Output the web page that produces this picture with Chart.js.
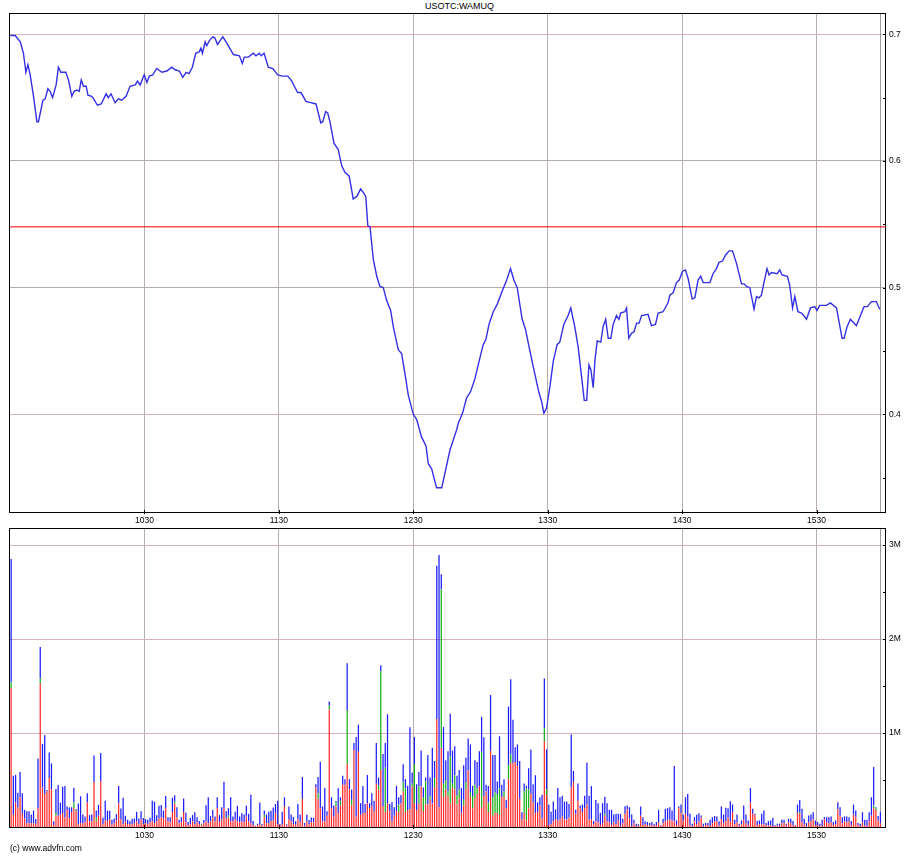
<!DOCTYPE html>
<html>
<head>
<meta charset="UTF-8">
<title>USOTC:WAMUQ</title>
<script src="https://cdn.jsdelivr.net/npm/chart.js"></script>
<style>
body {
  margin: 0;
  background: #fff;
  width: 919px;
  height: 857px;
  position: relative;
  overflow: hidden;
  font-family: "Liberation Sans", Arial, sans-serif;
}
#title {
  position: absolute;
  top: 2px;
  left: 0;
  width: 919px;
  text-align: center;
  font-size: 9px;
  line-height: 9px;
}
#copy {
  position: absolute;
  left: 10px;
  top: 844px;
  font-size: 8.5px;
  line-height: 9px;
}
canvas { position: absolute; left: 0; }
#price { top: 0; }
#vol { top: 520px; }
</style>
</head>
<body>

<div id="title">USOTC:WAMUQ</div>
<canvas id="price" width="919" height="530"></canvas>
<canvas id="vol" width="919" height="337"></canvas>
<div id="copy">(c) www.advfn.com</div>

<script>
// minutes after 09:30
const tickMinutes = [60, 120, 180, 240, 300, 360];
const timeLabels = ["1030", "1130", "1230", "1330", "1430", "1530"];

const priceTicks = [0.4, 0.5, 0.6, 0.7];
const priceMinor = [0.35, 0.45, 0.55, 0.65];
const volTicks = [1000, 2000, 3000];   // thousands
const volMinor = [500, 1500, 2500];
const prevClose = 0.548;

// price trace
const priceTime = [
  0.1,2.3,4.6,6.0,7.1,8.0,9.0,10.5,12.0,12.7,
  14.7,15.7,16.9,17.9,19.0,20.6,21.6,22.7,24.9,26.1,
  27.6,28.6,29.8,30.9,31.8,32.8,34.0,34.8,36.5,37.7,
  39.0,40.7,42.9,43.9,45.1,46.9,48.4,49.9,51.8,53.6,
  55.9,56.9,58.1,59.9,61.1,62.2,63.7,65.5,67.8,70.0,
  72.2,73.7,75.6,77.1,78.6,79.9,81.4,82.9,84.4,85.2,
  85.9,87.1,87.8,89.0,90.5,91.5,92.6,93.8,95.0,96.8,
  99.7,102.4,103.7,104.6,106.4,108.6,109.8,111.3,112.1,113.4,
  115.3,117.3,119.5,121.7,122.8,124.0,125.8,126.9,128.4,129.9,
  132.1,134.2,136.6,138.7,139.6,140.9,141.8,142.8,144.6,146.5,
  148.1,149.5,151.4,153.2,154.8,156.5,157.7,158.8,159.7,160.7,
  162.2,163.7,165.1,166.6,168.1,169.9,171.1,173.3,174.8,176.3,
  177.8,180.0,181.5,183.7,185.7,186.7,188.2,190.4,192.7,196.4,
  199.4,200.1,202.0,203.8,205.6,207.5,209.4,211.2,212.4,213.8,
  215.7,217.5,219.4,221.7,223.4,224.9,226.4,228.6,230.1,231.7,
  233.5,236.1,237.3,238.3,239.5,241.0,242.5,244.2,245.4,247.2,
  249.1,250.3,252.1,253.6,255.1,256.3,257.4,258.4,259.3,260.3,
  261.1,262.1,263.7,264.7,265.9,267.0,268.2,269.2,270.7,271.8,
  272.6,274.4,275.2,276.2,277.4,278.5,279.7,280.8,281.9,284.8,
  286.3,288.1,289.3,291.5,293.7,294.5,296.0,297.5,298.7,300.2,
  301.5,302.7,304.5,305.7,307.1,308.3,309.4,312.4,313.8,315.3,
  316.5,318.0,319.5,321.0,322.5,324.3,326.5,327.7,328.7,330.2,
  332.1,333.2,334.3,335.4,336.4,337.9,338.8,339.9,342.4,343.6,
  344.6,347.0,348.0,349.3,350.3,351.7,353.3,354.3,355.5,357.3,
  359.2,360.2,361.4,364.4,366.2,368.9,371.4,372.3,373.6,375.1,
  377.8,379.6,381.2,382.7,384.5,386.7,388.2
];
const priceValue = [
  0.699,0.699,0.694,0.685,0.670,0.676,0.668,0.651,0.631,0.631,
  0.648,0.649,0.657,0.655,0.650,0.660,0.674,0.670,0.670,0.664,
  0.651,0.655,0.656,0.655,0.664,0.659,0.659,0.652,0.651,0.648,
  0.644,0.645,0.653,0.650,0.653,0.646,0.649,0.648,0.651,0.659,
  0.660,0.663,0.660,0.668,0.662,0.667,0.668,0.673,0.670,0.671,
  0.674,0.672,0.671,0.666,0.670,0.669,0.674,0.685,0.686,0.689,
  0.685,0.694,0.691,0.695,0.698,0.697,0.692,0.695,0.698,0.693,
  0.684,0.683,0.677,0.682,0.682,0.685,0.683,0.685,0.683,0.685,
  0.674,0.673,0.668,0.667,0.667,0.667,0.663,0.659,0.654,0.654,
  0.647,0.646,0.645,0.630,0.631,0.639,0.638,0.631,0.614,0.609,
  0.596,0.591,0.588,0.570,0.572,0.578,0.575,0.572,0.549,0.548,
  0.522,0.509,0.501,0.500,0.490,0.482,0.469,0.451,0.448,0.432,
  0.415,0.400,0.396,0.382,0.375,0.361,0.357,0.342,0.342,0.372,
  0.388,0.393,0.401,0.413,0.418,0.428,0.442,0.455,0.459,0.471,
  0.481,0.487,0.496,0.506,0.515,0.506,0.500,0.475,0.467,0.453,
  0.438,0.417,0.410,0.401,0.405,0.422,0.442,0.455,0.457,0.471,
  0.478,0.484,0.469,0.453,0.430,0.411,0.411,0.439,0.435,0.421,
  0.443,0.458,0.457,0.469,0.475,0.460,0.460,0.471,0.478,0.475,
  0.480,0.481,0.484,0.460,0.464,0.465,0.472,0.472,0.478,0.479,
  0.470,0.471,0.480,0.481,0.488,0.494,0.496,0.504,0.506,0.513,
  0.514,0.507,0.491,0.492,0.506,0.509,0.504,0.504,0.511,0.515,
  0.520,0.521,0.526,0.529,0.529,0.519,0.503,0.503,0.501,0.500,
  0.483,0.493,0.492,0.494,0.503,0.515,0.510,0.512,0.511,0.514,
  0.510,0.509,0.502,0.484,0.493,0.481,0.480,0.478,0.475,0.484,
  0.485,0.482,0.486,0.486,0.488,0.484,0.460,0.460,0.469,0.475,
  0.470,0.478,0.485,0.485,0.489,0.489,0.483
];

// volume per minute, thousands of shares
const volTotal = [
  2850,546,554,365,586,358,183,168,168,133,
  175,84,730,1916,885,976,393,793,677,60,
  404,446,260,428,435,218,207,210,418,190,
  250,326,133,112,358,126,133,762,175,235,
  786,98,280,175,172,77,91,137,435,196,
  312,119,77,60,88,91,161,91,168,95,
  84,77,98,280,270,126,225,235,175,330,
  105,105,312,337,210,77,105,302,154,52,
  98,126,158,105,63,35,74,232,316,116,
  182,112,316,126,210,481,168,200,316,112,
  161,225,112,147,133,225,140,344,63,14,
  35,260,32,175,133,161,172,207,245,280,
  32,161,316,28,218,133,105,60,245,133,
  533,42,130,74,102,98,456,533,695,218,
  414,168,1334,316,228,277,411,316,544,509,
  1741,509,400,895,958,1088,253,435,245,554,
  253,358,280,895,526,1720,776,895,1200,245,
  266,210,438,316,340,667,509,438,1060,579,
  958,456,586,814,421,526,765,526,842,702,
  2780,2893,2689,1063,709,807,1204,814,860,544,
  607,414,656,737,941,878,439,709,691,807,
  1172,955,449,435,1404,765,765,484,965,449,
  509,288,1281,1572,1141,849,878,702,158,463,
  439,625,825,456,551,263,316,344,1580,825,
  239,161,270,186,414,316,333,270,270,246,
  983,597,183,463,228,239,333,684,333,435,
  63,288,253,151,253,323,253,183,183,133,
  140,140,140,88,221,228,211,133,77,35,
  28,218,105,60,53,42,53,28,53,183,
  18,88,193,200,211,176,649,70,218,239,
  133,316,351,140,35,105,130,147,123,35,
  42,42,77,105,116,112,60,218,133,204,
  200,274,239,77,133,35,70,228,133,70,
  414,193,140,63,70,140,176,42,63,70,
  98,18,35,35,77,77,35,88,88,63,
  18,239,288,193,88,42,123,133,158,70,
  53,35,77,105,105,105,112,53,70,263,
  211,105,112,112,105,63,239,176,42,35,
  158,77,77,158,316,639,211,116,158
];
const volRed = [
  1480,130,260,210,320,140,90,40,40,40,
  40,35,200,1530,420,350,380,520,400,20,
  120,120,130,150,100,180,90,160,200,170,
  30,40,40,50,260,60,60,480,60,120,
  490,30,70,60,80,25,40,70,250,80,
  30,60,30,30,30,40,60,30,80,30,
  40,30,50,60,40,60,90,100,90,200,
  60,50,160,250,100,40,50,160,50,20,
  30,60,30,50,30,20,40,60,40,60,
  100,60,200,50,80,200,90,100,60,60,
  80,60,50,60,50,110,60,40,20,10,
  20,30,15,100,40,40,60,70,150,30,
  15,30,220,15,80,60,30,25,80,50,
  300,15,60,30,50,50,420,300,200,60,
  60,120,1250,200,110,220,150,230,450,450,
  670,400,230,820,110,800,130,150,150,250,
  200,220,170,460,400,610,220,160,250,170,
  60,120,170,160,250,380,160,180,190,430,
  250,180,250,430,170,240,240,290,250,420,
  1150,210,840,320,400,330,250,420,400,240,
  300,150,230,400,600,320,200,300,350,430,
  210,330,380,160,810,120,150,150,130,320,
  320,200,510,680,680,690,650,300,80,150,
  70,200,350,260,150,160,230,90,910,340,
  20,30,60,80,70,80,110,80,80,100,
  420,480,140,280,200,160,200,240,80,80,
  30,60,50,20,40,120,60,50,20,50,
  30,70,10,40,140,190,90,10,40,10,
  10,120,20,30,20,15,20,10,20,50,
  10,40,60,70,80,70,60,20,200,150,
  70,140,110,20,10,60,30,60,100,10,
  20,20,10,40,60,60,15,80,40,60,
  100,60,160,30,50,15,30,80,40,20,
  260,140,130,20,30,30,30,15,15,20,
  10,10,15,10,40,40,15,50,40,20,
  10,150,140,50,30,10,50,60,80,20,
  20,10,10,80,50,40,50,20,30,190,
  120,40,60,50,60,20,130,110,20,10,
  50,15,10,60,120,200,180,70,40
];
const volGreen = [
  60,0,0,0,0,0,0,0,0,0,
  0,0,0,50,0,0,0,0,0,0,
  30,0,0,0,0,0,0,0,60,10,
  0,0,0,0,0,0,0,0,40,0,
  0,0,0,0,0,0,0,0,0,0,
  0,0,0,0,0,0,0,0,0,0,
  0,0,0,0,0,0,0,0,0,0,
  0,0,0,20,0,0,0,0,0,0,
  0,0,0,0,0,10,0,0,0,0,
  0,0,0,0,0,0,0,20,0,0,
  0,0,0,0,0,0,0,0,0,0,
  0,0,0,30,0,0,0,0,0,0,
  0,0,0,0,0,0,0,0,0,0,
  0,0,0,0,0,0,0,60,0,0,
  0,0,40,0,0,40,0,50,0,0,
  570,0,60,0,0,0,0,0,0,0,
  0,0,0,0,40,1050,0,470,0,0,
  0,0,0,80,0,100,250,0,0,30,
  420,0,180,0,150,250,0,40,0,100,
  0,0,1690,140,100,50,500,40,150,100,
  100,0,60,80,0,50,130,150,60,0,
  590,0,0,100,0,200,220,200,280,0,
  60,0,150,90,0,0,0,0,0,230,
  340,200,0,0,0,0,0,0,140,60,
  0,0,0,0,0,0,0,0,0,0,
  0,0,0,0,0,0,0,0,0,0,
  0,0,0,0,0,20,0,0,0,0,
  0,0,0,0,0,0,0,0,0,0,
  0,0,0,0,0,0,0,0,0,0,
  0,0,0,0,0,0,0,0,0,0,
  0,0,0,0,0,0,0,0,0,0,
  0,0,0,0,0,0,0,0,0,0,
  0,0,0,0,0,0,0,0,0,0,
  0,0,0,0,0,0,0,0,0,0,
  0,0,0,0,0,0,0,0,0,0,
  0,0,20,0,0,0,0,0,0,0,
  0,0,0,0,0,0,0,0,0,0,
  0,0,0,0,0,0,0,0,0,0,
  0,0,0,0,0,30,20,0,0
];

const xMax = 391;
const lastTime = priceTime[priceTime.length - 1];
const labelFont = { family: "Liberation Sans, Arial, sans-serif", size: 8.5 };

// frame, tick marks and the last-trade line, drawn under the data
const framePlugin = {
  id: "frame",
  beforeDatasetsDraw(chart, args, opts) {
    const { ctx, chartArea: a, scales } = chart;
    ctx.save();
    ctx.lineWidth = 1;
    const lx = Math.round(scales.x.getPixelForValue(lastTime)) + 0.5;
    ctx.strokeStyle = "#9c9898";
    ctx.beginPath();
    ctx.moveTo(lx, a.top);
    ctx.lineTo(lx, a.bottom);
    ctx.stroke();

    ctx.strokeStyle = "#000";
    ctx.beginPath();
    opts.ticks.concat(opts.minor).forEach(v => {
      const y = Math.round(scales.y.getPixelForValue(v)) + 0.5;
      ctx.moveTo(a.right - 3, y);
      ctx.lineTo(a.right, y);
    });
    tickMinutes.forEach(m => {
      const x = Math.round(scales.x.getPixelForValue(m)) + 0.5;
      ctx.moveTo(x, a.bottom - 2);
      ctx.lineTo(x, a.bottom + 2);
    });
    ctx.stroke();
    ctx.strokeRect(Math.round(a.left) - 0.5, Math.round(a.top) + 0.5,
      Math.round(a.right - a.left), Math.round(a.bottom - a.top));
    ctx.restore();
  }
};

function xScale(height) {
  return {
    type: "linear",
    min: 0,
    max: xMax,
    offset: false,
    stacked: true,
    border: { display: false },
    grid: { color: "#b8acac", drawTicks: false, offset: false },
    afterBuildTicks: s => { s.ticks = tickMinutes.map(v => ({ value: v })); },
    afterFit: s => { s.height = height; },
    ticks: {
      autoSkip: false,
      maxRotation: 0,
      color: "#000",
      font: labelFont,
      padding: 4,
      callback: v => timeLabels[tickMinutes.indexOf(v)]
    }
  };
}

new Chart(document.getElementById("price"), {
  type: "line",
  data: {
    datasets: [
      {
        data: priceTime.map((t, i) => ({ x: t, y: priceValue[i] })),
        borderColor: "#3430e8",
        borderWidth: 1.4,
        pointRadius: 0,
        tension: 0
      },
      {
        data: [{ x: 0, y: prevClose }, { x: xMax, y: prevClose }],
        borderColor: "#ff0000",
        borderWidth: 1,
        pointRadius: 0
      }
    ]
  },
  options: {
    responsive: false,
    animation: false,
    devicePixelRatio: 1,
    layout: { padding: { left: 10, top: 13, right: 0, bottom: 0 } },
    plugins: {
      legend: { display: false },
      tooltip: { enabled: false },
      frame: { ticks: priceTicks, minor: priceMinor }
    },
    scales: {
      x: xScale(18),
      y: {
        position: "right",
        min: 0.3229,
        max: 0.7168,
        border: { display: false },
        grid: {
          drawTicks: false,
          color: c => (c.tick && (c.tick.value === 0.4 || c.tick.value === 0.7)) ? "#d4b0c0" : "#b0acac"
        },
        afterBuildTicks: s => { s.ticks = priceTicks.map(v => ({ value: v })); },
        afterFit: s => { s.width = 33; },
        ticks: {
          color: "#000",
          font: labelFont,
          padding: 3,
          callback: v => v.toFixed(1)
        }
      }
    }
  },
  plugins: [framePlugin]
});

const volBlue = volTotal.map((v, i) => v - volRed[i] - volGreen[i]);
const barSet = (arr, color) => ({
  data: arr.map((v, i) => ({ x: i + 0.5, y: v })),
  backgroundColor: color,
  barThickness: 1.25,
  inflateAmount: 0,
  borderWidth: 0
});

new Chart(document.getElementById("vol"), {
  type: "bar",
  data: {
    datasets: [
      barSet(volRed, "#ff2a2a"),
      barSet(volGreen, "#18b018"),
      barSet(volBlue, "#1c1cff")
    ]
  },
  options: {
    responsive: false,
    animation: false,
    devicePixelRatio: 1,
    layout: { padding: { left: 10, top: 5, right: 0, bottom: 0 } },
    plugins: {
      legend: { display: false },
      tooltip: { enabled: false },
      frame: { ticks: volTicks, minor: volMinor }
    },
    scales: {
      x: xScale(30),
      y: {
        position: "right",
        min: 0,
        max: 3180,
        stacked: true,
        border: { display: false },
        grid: { drawTicks: false, color: "#d4b0c0" },
        afterBuildTicks: s => { s.ticks = volTicks.map(v => ({ value: v })); },
        afterFit: s => { s.width = 33; },
        ticks: {
          color: "#000",
          font: labelFont,
          padding: 3,
          callback: v => (v / 1000) + "M"
        }
      }
    }
  },
  plugins: [framePlugin]
});
</script>

</body>
</html>
